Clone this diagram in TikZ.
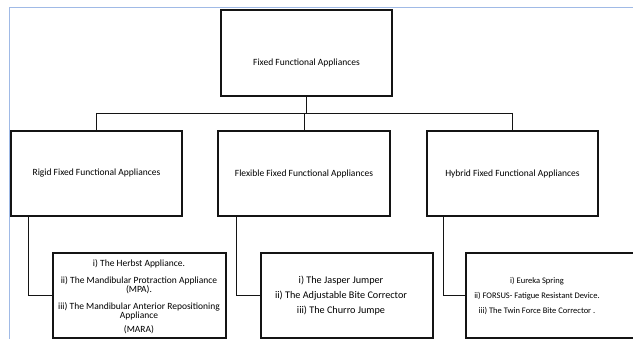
\documentclass[tikz,border=0pt]{standalone}
\usepackage{fontspec}
\setmainfont{Carlito}
\definecolor{frameblue}{RGB}{160,186,230}
\definecolor{ink}{RGB}{20,20,20}
\begin{document}
\begin{tikzpicture}[x=1pt,y=-1pt,
  box/.style={draw=ink, line width=1.4pt, rectangle, inner sep=0pt, align=center,
    font=\fontsize{9.5}{9.5}\selectfont},
  txt/.style={inner sep=0pt, align=center, font=\fontsize{9.5}{9.5}\selectfont},
  link/.style={draw=ink, line width=0.9pt}]
\useasboundingbox (0,0) rectangle (633,339);
\draw[frameblue, line width=1pt] (9,339) -- (9,8) -- (633,8);

\node[box, minimum width=171pt, minimum height=86pt, text height=25pt, text depth=0pt] (top) at (306.5,53) {Fixed Functional Appliances};

\node[box, minimum width=171pt, minimum height=85pt] (rigid) at (96.5,173.5) {Rigid Fixed Functional Appliances};
\node[box, minimum width=172pt, minimum height=85pt] (flex) at (304,173.5) {Flexible Fixed Functional Appliances};
\node[box, minimum width=171pt, minimum height=85pt] (hybrid) at (512.5,173.5) {Hybrid Fixed Functional Appliances};

\node[box, minimum width=173pt, minimum height=85pt] (mA) at (139.5,295.5) {};
\node[txt] (tA) at (139,296.5) {i) The Herbst Appliance.\\[7.5pt]
ii) The Mandibular Protraction Appliance\\
(MPA).\\[7pt]
iii) The Mandibular Anterior Repositioning\\
Appliance\\[4pt]
(MARA)};

\node[box, minimum width=172pt, minimum height=85pt] (mB) at (347,295.5) {};
\node[txt, font=\fontsize{10.2}{10.2}\selectfont] (tB) at (341,296) {i) The Jasper Jumper\\[4.8pt]
ii) The Adjustable Bite Corrector\\[4.8pt]
iii) The Churro Jumpe};

\node[box, minimum width=174pt, minimum height=85pt] (mC) at (553,295.5) {};
\node[txt, font=\fontsize{8.5}{8.5}\selectfont] (tC) at (537,296) {i) Eureka Spring\\[6.5pt]
ii) FORSUS- Fatigue Resistant Device.\\[6.5pt]
iii) The Twin Force Bite Corrector .};

\coordinate (bus) at (0,113);
\coordinate (xa) at (28,0);
\coordinate (xb) at (236,0);
\coordinate (xc) at (443,0);

\draw[link] (top.south) -- (top.south |- bus);
\draw[link] (rigid.north |- bus) -- (hybrid.north |- bus);
\draw[link] (rigid.north |- bus) -- (rigid.north);
\draw[link] (flex.north |- bus) -- (flex.north);
\draw[link] (hybrid.north |- bus) -- (hybrid.north);

\draw[link] (xa |- rigid.south) |- (mA.west);
\draw[link] (xb |- flex.south) |- (mB.west);
\draw[link] (xc |- hybrid.south) |- (mC.west);
\end{tikzpicture}
\end{document}
